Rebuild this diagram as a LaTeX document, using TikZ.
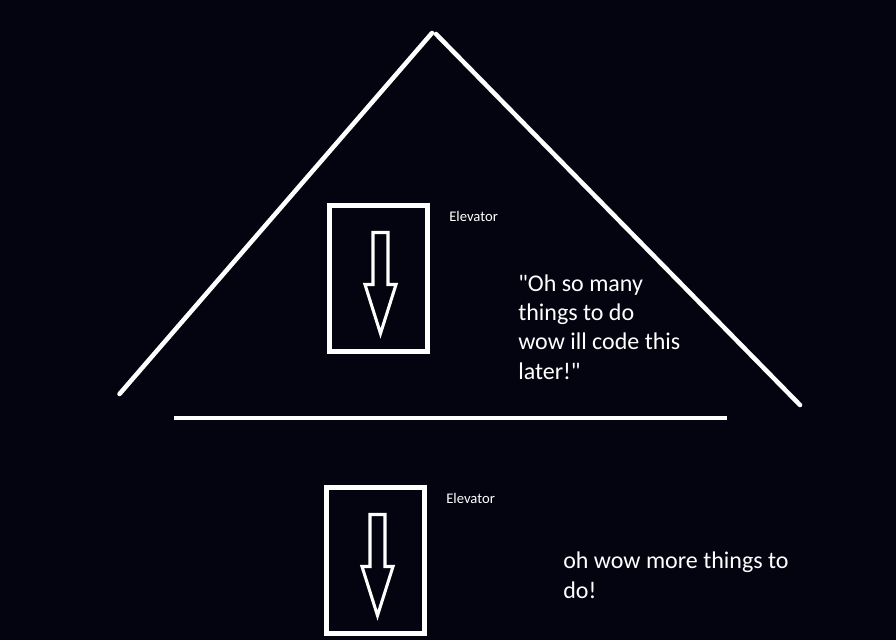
\documentclass[tikz,border=0pt]{standalone}
\usepackage{fontspec}
\newfontfamily\notefont{Carlito}
\definecolor{nightsky}{RGB}{4,4,16}
\begin{document}
\begin{tikzpicture}[x=0.75pt,y=-0.75pt]
\fill[color=nightsky] (0,0) rectangle (896,640);
\useasboundingbox (0,0) rectangle (896,640);

% roof and floor
\draw[white,line width=3.4pt,line cap=round] (119.5,394) -- (432,33);
\draw[white,line width=3.4pt,line cap=round] (436,34) -- (800,405);
\draw[white,line width=2.4pt] (174,418) -- (727,418);

% the two elevators
\foreach \dx/\dy/\name in {0/0/liftA,-3/282/liftB} {
  \begin{scope}[shift={(\dx,\dy)}]
  \draw[white,line width=3.8pt] (329.5,205.5) rectangle (427.5,351.5);
  \draw[white,line width=2.3pt] (373,232.5) -- (388,232.5) -- (388,284.5)
    -- (396,284.5) -- (380.5,333.5) -- (365,284.5) -- (373,284.5) -- cycle;
  \node[white,anchor=base west,inner sep=0pt,font=\notefont\fontsize{11pt}{13pt}\selectfont]
    (\name) at (449,221) {Elevator};
  \end{scope}
}

% last line of each note sits on the given baseline
\node[white,anchor=base west,inner sep=0pt,align=left,
  font=\notefont\fontsize{18pt}{22pt}\selectfont] (todo) at (518,379)
  {"Oh so many\\things to do\\wow ill code this\\later!"};
\node[white,anchor=base west,inner sep=0pt,align=left,
  font=\notefont\fontsize{18pt}{22pt}\selectfont] (more) at (563,598.3)
  {oh wow more things to\\do!};
\end{tikzpicture}
\end{document}
